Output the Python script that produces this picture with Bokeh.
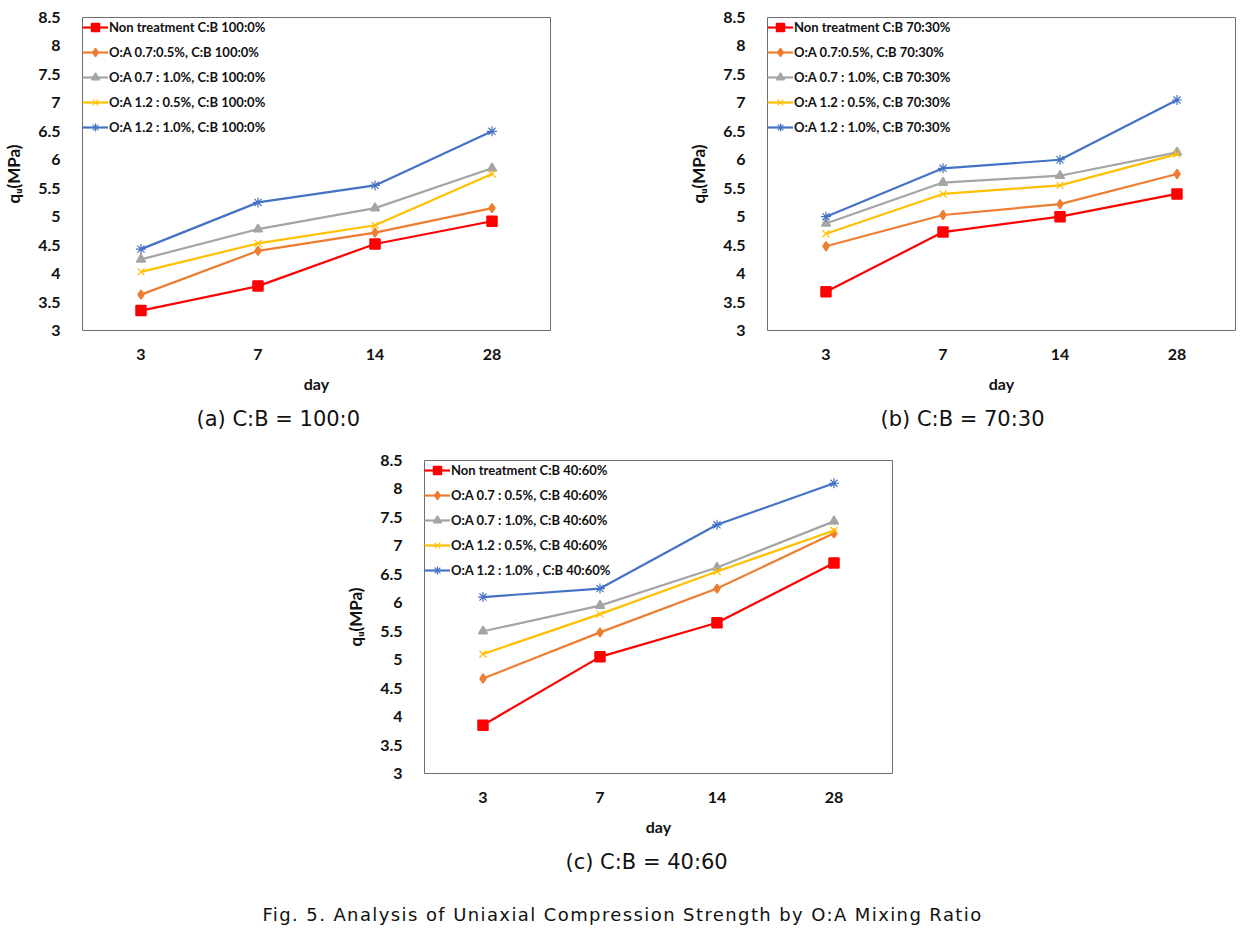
from bokeh.plotting import figure
from bokeh.models import FactorRange, Range1d, FixedTicker, Title, Div, Legend
from bokeh.layouts import column, row
from bokeh.embed import file_html
from bokeh.resources import INLINE

days = ["3", "7", "14", "28"]
y_ticks = [3, 3.5, 4, 4.5, 5, 5.5, 6, 6.5, 7, 7.5, 8, 8.5]
y_tick_labels = ["3", "3.5", "4", "4.5", "5", "5.5", "6", "6.5", "7", "7.5", "8", "8.5"]

# Panel (a) C:B = 100:0
a_non = [3.35, 3.78, 4.52, 4.92]
a_07_05 = [3.63, 4.40, 4.72, 5.15]
a_07_10 = [4.25, 4.78, 5.15, 5.85]
a_12_05 = [4.03, 4.53, 4.85, 5.75]
a_12_10 = [4.43, 5.25, 5.55, 6.50]
a_labels = ["Non treatment C:B 100:0%", "O:A 0.7:0.5%, C:B 100:0%", "O:A 0.7 : 1.0%, C:B 100:0%",
            "O:A 1.2 : 0.5%, C:B 100:0%", "O:A 1.2 : 1.0%, C:B 100:0%"]

# Panel (b) C:B = 70:30
b_non = [3.68, 4.73, 5.00, 5.40]
b_07_05 = [4.48, 5.03, 5.22, 5.75]
b_07_10 = [4.88, 5.60, 5.72, 6.13]
b_12_05 = [4.70, 5.40, 5.55, 6.10]
b_12_10 = [5.00, 5.85, 6.00, 7.05]
b_labels = ["Non treatment C:B 70:30%", "O:A 0.7:0.5%, C:B 70:30%", "O:A 0.7 : 1.0%, C:B 70:30%",
            "O:A 1.2 : 0.5%, C:B 70:30%", "O:A 1.2 : 1.0%, C:B 70:30%"]

# Panel (c) C:B = 40:60
c_non = [3.85, 5.05, 5.65, 6.70]
c_07_05 = [4.67, 5.48, 6.25, 7.22]
c_07_10 = [5.50, 5.95, 6.62, 7.43]
c_12_05 = [5.10, 5.80, 6.55, 7.27]
c_12_10 = [6.10, 6.25, 7.37, 8.10]
c_labels = ["Non treatment C:B 40:60%", "O:A 0.7 : 0.5%, C:B 40:60%", "O:A 0.7 : 1.0%, C:B 40:60%",
            "O:A 1.2 : 0.5%, C:B 40:60%", "O:A 1.2 : 1.0% , C:B 40:60%"]

colors = ["#FF0000", "#ED7D31", "#A5A5A5", "#FFC000", "#4472C4"]
markers = ["square", "diamond", "triangle", "x", "asterisk"]
msizes = [10, 9, 9, 10, 10]
mlw = [1.5, 1.5, 1.5, 1.2, 1.2]

FONT = "Lato"
CAP_FONT = "DejaVu Sans"


def make_panel(series, labels, caption, cap_offset, bl, bt, br, bb):
    p = figure(x_range=FactorRange(*days, range_padding=0), y_range=Range1d(3, 8.5),
               frame_width=468, frame_height=313,
               min_border_left=bl, min_border_top=bt, min_border_right=br, min_border_bottom=bb,
               output_backend="svg", toolbar_location=None)
    p.xgrid.visible = False
    p.ygrid.visible = False
    p.outline_line_color = "#6E6E6E"
    p.outline_line_width = 1
    p.background_fill_color = "white"
    p.border_fill_color = "white"
    for ax in (p.xaxis[0], p.yaxis[0]):
        ax.axis_line_color = None
        ax.major_tick_line_color = None
        ax.minor_tick_line_color = None
        ax.major_tick_out = 0
        ax.major_tick_in = 0
        ax.major_label_text_font = FONT
        ax.major_label_text_font_style = "bold"
        ax.major_label_text_font_size = "16px"
        ax.major_label_text_color = "#111111"
        ax.axis_label_text_font = FONT
        ax.axis_label_text_font_style = "bold"
        ax.axis_label_text_font_size = "16px"
        ax.axis_label_text_color = "#111111"
    p.yaxis.ticker = FixedTicker(ticks=y_ticks)
    p.yaxis.major_label_overrides = {t: l for t, l in zip(y_ticks, y_tick_labels)}
    p.yaxis.major_label_standoff = 22
    p.yaxis.axis_label = "q\u1d64(MPa)"
    p.yaxis.axis_label_text_font_size = "17px"
    p.yaxis.axis_label_standoff = 11
    p.xaxis.axis_label = "day"
    p.xaxis.major_label_standoff = 18
    p.xaxis.axis_label_standoff = 11

    items = []
    for vals, lab, col, mk, ms, lw in zip(series, labels, colors, markers, msizes, mlw):
        r1 = p.line(days, vals, line_color=col, line_width=2.2)
        r2 = p.scatter(days, vals, marker=mk, size=ms, line_color=col, fill_color=col, line_width=lw)
        items.append((lab, [r1, r2]))
    leg = Legend(items=items, location="top_left")
    leg.border_line_color = None
    leg.background_fill_alpha = 0
    leg.margin = 0
    leg.padding = 4
    leg.spacing = 5
    leg.glyph_height = 20
    leg.label_height = 20
    leg.glyph_width = 26
    leg.label_standoff = 1
    leg.label_text_font = FONT
    leg.label_text_font_style = "bold"
    leg.label_text_font_size = "13px"
    leg.label_text_color = "#111111"
    p.add_layout(leg, "center")

    t = Title(text=caption, align="left", offset=cap_offset, text_font=CAP_FONT,
              text_font_style="normal", text_font_size="21px", text_color="#111111", standoff=19)
    p.add_layout(t, "below")
    return p


pa = make_panel([a_non, a_07_05, a_07_10, a_12_05, a_12_10], a_labels, "(a) C:B = 100:0", 114,
                80, 17, 72, 115)
pb = make_panel([b_non, b_07_05, b_07_10, b_12_05, b_12_10], b_labels, "(b) C:B = 70:30", 113,
                145, 17, 10, 115)
pc = make_panel([c_non, c_07_05, c_07_10, c_12_05, c_12_10], c_labels, "(c) C:B = 40:60", 141,
                424, 15, 343, 117)

cap = Div(text="Fig. 5. Analysis of Uniaxial Compression Strength by O:A Mixing Ratio",
          width=1235, height=36,
          styles={"text-align": "center", "font-family": CAP_FONT, "font-size": "18px",
                  "color": "#111111", "padding-top": "7px", "letter-spacing": "1.4px"})

layout = column(row(pa, pb), pc, cap)

with open("out.html", "w") as f:
    f.write(file_html(layout, INLINE))
